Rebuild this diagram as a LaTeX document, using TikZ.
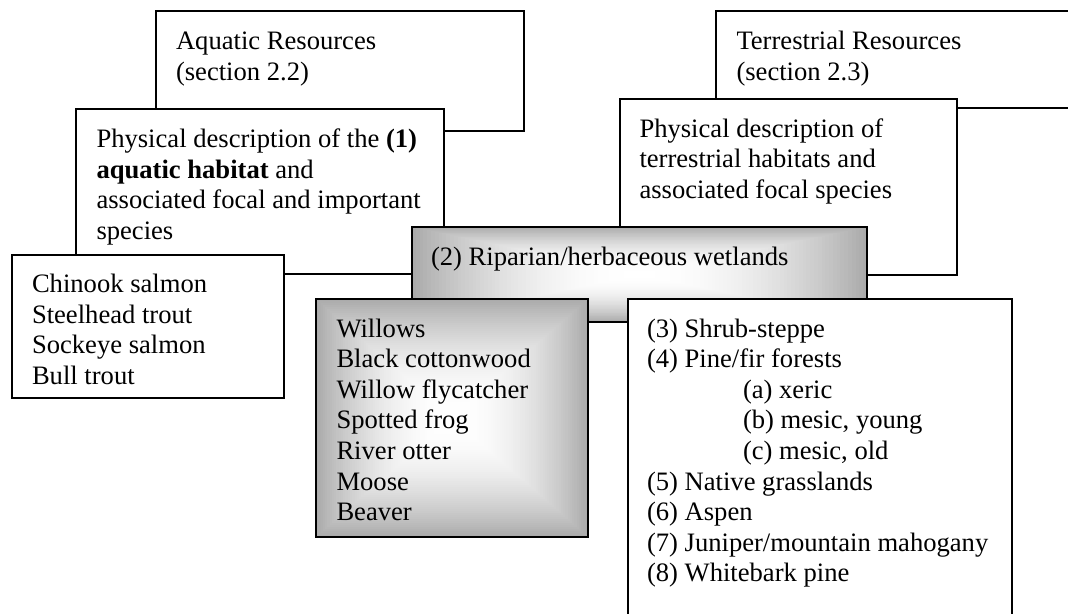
\documentclass[tikz,border=0pt]{standalone}
\usepackage{fontspec}
\setmainfont{Liberation Serif}
\newcommand\gradfill[4]{%
  \foreach \k in {0,...,59}{%
    \pgfmathsetmacro\gbgl{0.67+0.33*(1-(1-\k/59)^2)}%
    \definecolor{gtmp}{gray}{\gbgl}%
    \pgfmathsetmacro\gbdx{(#3-#1)/2*\k/60}%
    \pgfmathsetmacro\gbdy{(#4-#2)/2*\k/60}%
    \fill[gtmp] ({#1+\gbdx},{#2+\gbdy}) rectangle ({#3-\gbdx},{#4-\gbdy});
  }%
}
\tikzset{
  box/.style={rectangle, draw=black, line width=1.8pt, fill=white, inner sep=0pt, outer sep=0pt, anchor=north west},
  gbox/.style={rectangle, draw=black, line width=1.8pt, inner sep=0pt, outer sep=0pt, anchor=north west},
  txt/.style={anchor=north west, inner sep=0pt, outer sep=0pt, align=left, font=\fontsize{26.6pt}{30.6pt}\selectfont}
}
\begin{document}
\begin{tikzpicture}[x=1pt,y=-1pt]
\useasboundingbox (0,0) rectangle (1068,613);
% Aquatic resources
\node[box, minimum width=368pt, minimum height=120pt] (A) at (156,11) {};
\node[txt] (At) at (176,28.1) {\strut Aquatic Resources\\(section 2.2)};
% Physical description aquatic
\node[box, minimum width=368pt, minimum height=165pt] (B) at (76,109) {};
\node[txt] (Bt) at (96.5,126.1) {\strut Physical description of the \textbf{(1)}\\\textbf{aquatic habitat} and\\associated focal and important\\species};
% Fish list
\node[box, minimum width=272pt, minimum height=143pt] (C) at (12,255) {};
\node[txt] (Ct) at (32,271.2) {\strut Chinook salmon\\Steelhead trout\\Sockeye salmon\\Bull trout};
% Terrestrial resources
\node[box, minimum width=380pt, minimum height=97pt] (T) at (716,11) {};
\node[txt] (Tt) at (736.5,28.1) {\strut Terrestrial Resources\\(section 2.3)};
% Physical description terrestrial
\node[box, minimum width=337pt, minimum height=176pt] (P) at (620,99) {};
\node[txt] (Pt) at (639.5,115.6) {\strut Physical description of\\terrestrial habitats and\\associated focal species};
% Riparian
\gradfill{412}{227}{867}{322}
\node[gbox, minimum width=455pt, minimum height=95pt] (R) at (412,227) {};
\node[txt] (Rt) at (431,243.6) {\strut (2) Riparian/herbaceous wetlands};
% Willows list
\gradfill{316}{299}{588}{537}
\node[gbox, minimum width=272pt, minimum height=238pt] (W) at (316,299) {};
\node[txt] (Wt) at (336.5,315.6) {\strut Willows\\Black cottonwood\\Willow flycatcher\\Spotted frog\\River otter\\Moose\\Beaver};
% Terrestrial habitats list
\node[box, minimum width=384pt, minimum height=330pt] (S) at (628,299) {};
\node[txt] (St) at (647,315.6) {\strut (3) Shrub-steppe\\(4) Pine/fir forests\\\hspace*{96pt}(a) xeric\\\hspace*{96pt}(b) mesic, young\\\hspace*{96pt}(c) mesic, old\\(5) Native grasslands\\(6) Aspen\\(7) Juniper/mountain mahogany\\(8) Whitebark pine};
\end{tikzpicture}
\end{document}
